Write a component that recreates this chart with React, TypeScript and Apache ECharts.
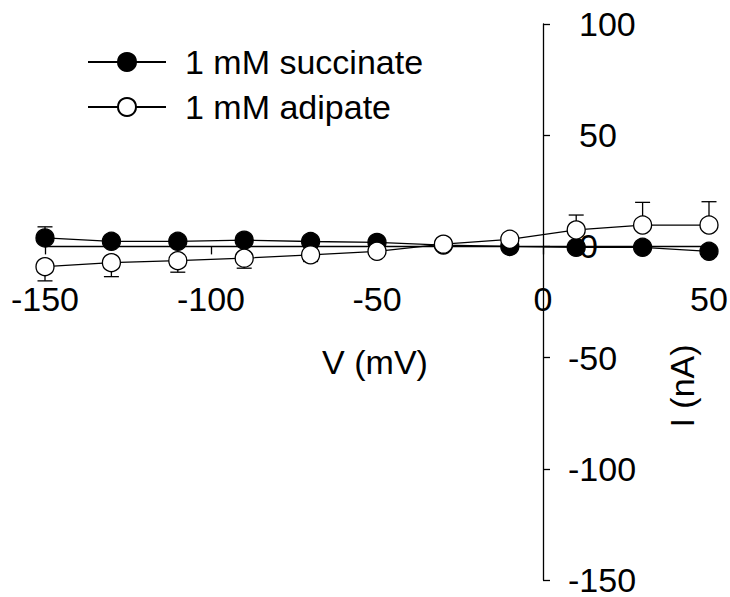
import React, { useEffect, useRef } from "react";
import * as echarts from "echarts";

const voltages = [-150, -130, -110, -90, -70, -50, -30, -10, 10, 30, 50];
const succinate = [3.8, 2.3, 2.3, 2.8, 2.2, 1.8, 0.6, 0.0, -0.4, -0.4, -2.2];
const succinateErr = [5.0, 2.0, 2.0, 2.0, 2.0, 2.0, 2.0, 2.0, 2.0, 2.0, 2.0];
const adipate = [-9.1, -7.3, -6.4, -5.3, -3.8, -2.2, 1.0, 3.2, 7.4, 9.6, 9.6];
const adipateErr = [6.4, 6.3, 5.2, 4.5, 3.0, 2.0, 2.0, 2.0, 6.7, 10.2, 10.5];
const seriesNames = ["1 mM succinate", "1 mM adipate"];
const xTitle = "V (mV)";
const yTitle = "I (nA)";
const xRange = [-150, 50];
const yRange = [-150, 100];

const FONT = "'Liberation Sans', Arial, Helvetica, sans-serif";

const W = 730;
const H = 597;
const GRID = { left: 45, right: 21, top: 24, bottom: 17 };
const plotW = W - GRID.left - GRID.right;
const plotH = H - GRID.top - GRID.bottom;
// offsets that bring each axis onto the other axis's zero, labels included
const xAxisOffset = -plotH * (0 - yRange[0]) / (yRange[1] - yRange[0]);
const yAxisOffset = -plotW * (0 - xRange[0]) / (xRange[1] - xRange[0]);

function errData(vals: number[], errs: number[]) {
  return voltages.map((v, i) => [v, vals[i], errs[i]]);
}

function errRender(params: any, api: any) {
  const x = api.value(0);
  const y = api.value(1);
  const e = api.value(2);
  const end = y >= 0 ? y + e : y - e;
  const p0 = api.coord([x, y]);
  const p1 = api.coord([x, end]);
  const half = 7.5;
  const style = { stroke: "#000", lineWidth: 1.3 };
  return {
    type: "group",
    children: [
      { type: "line", shape: { x1: p0[0], y1: p0[1], x2: p1[0], y2: p1[1] }, style },
      { type: "line", shape: { x1: p1[0] - half, y1: p1[1], x2: p1[0] + half, y2: p1[1] }, style },
    ],
  };
}

export default function App() {
  const ref = useRef<HTMLDivElement>(null);
  useEffect(() => {
    if (!ref.current) return;
    const chart = echarts.init(ref.current, undefined, { renderer: "svg" });
    const lineStyle = { color: "#000", width: 1.3 };
    chart.setOption({
      animation: false,
      backgroundColor: "#fff",
      grid: { ...GRID, containLabel: false, outerBoundsMode: "none" },
      legend: {
        orient: "vertical",
        left: 87,
        top: 45,
        padding: 0,
        itemWidth: 78,
        itemHeight: 22.5,
        itemGap: 11,
        data: seriesNames,
        textStyle: {
          fontFamily: FONT,
          fontSize: 34,
          lineHeight: 34,
          color: "#000",
          padding: [0, 0, 0, 14],
        },
      },
      xAxis: {
        type: "value",
        min: xRange[0],
        max: xRange[1],
        interval: 50,
        position: "bottom",
        offset: xAxisOffset,
        axisLine: { onZero: false, lineStyle: { color: "#000", width: 1.3 } },
        axisTick: { show: true, inside: false, length: 8, lineStyle: { color: "#000", width: 1.3 } },
        axisLabel: { margin: 36, fontFamily: FONT, fontSize: 34, color: "#000" },
        splitLine: { show: false },
        z: 1,
      },
      yAxis: {
        type: "value",
        min: yRange[0],
        max: yRange[1],
        interval: 50,
        position: "left",
        offset: yAxisOffset,
        axisLine: { onZero: false, lineStyle: { color: "#000", width: 1.3 } },
        axisTick: { show: true, inside: true, length: 7, lineStyle: { color: "#000", width: 1.3 } },
        axisLabel: {
          inside: true,
          margin: 25,
          fontFamily: FONT,
          fontSize: 34,
          color: "#000",
          formatter: (v: number) => (v < 0 ? String(v) : "{pad| }" + v),
          rich: { pad: { width: 11, fontSize: 34, fontFamily: FONT } },
        },
        splitLine: { show: false },
        z: 5,
      },
      graphic: [
        {
          type: "text",
          x: 375,
          y: 362,
          style: { text: xTitle, fontFamily: FONT, fontSize: 34, fill: "#000", align: "center", verticalAlign: "middle" },
        },
        {
          type: "text",
          x: 682,
          y: 386,
          rotation: Math.PI / 2,
          style: { text: yTitle, fontFamily: FONT, fontSize: 34, fill: "#000", align: "center", verticalAlign: "middle" },
        },
      ],
      series: [
        {
          type: "custom",
          name: "succErr",
          renderItem: errRender,
          data: errData(succinate, succinateErr),
          encode: { x: 0, y: 1 },
          z: 1,
        },
        {
          type: "custom",
          name: "adipErr",
          renderItem: errRender,
          data: errData(adipate, adipateErr),
          encode: { x: 0, y: 1 },
          z: 1,
        },
        {
          type: "line",
          name: seriesNames[0],
          data: voltages.map((v, i) => [v, succinate[i]]),
          symbol: "circle",
          symbolSize: 18,
          showAllSymbol: true,
          lineStyle,
          itemStyle: { color: "#000", borderColor: "#000", borderWidth: 1.3 },
          z: 2,
        },
        {
          type: "line",
          name: seriesNames[1],
          data: voltages.map((v, i) => [v, adipate[i]]),
          symbol: "circle",
          symbolSize: 18,
          showAllSymbol: true,
          lineStyle,
          itemStyle: { color: "#fff", borderColor: "#000", borderWidth: 1.3 },
          z: 3,
        },
      ],
    });
    return () => chart.dispose();
  }, []);
  return <div ref={ref} style={{ position: "absolute", left: 0, top: 0, width: W, height: H }} />;
}
